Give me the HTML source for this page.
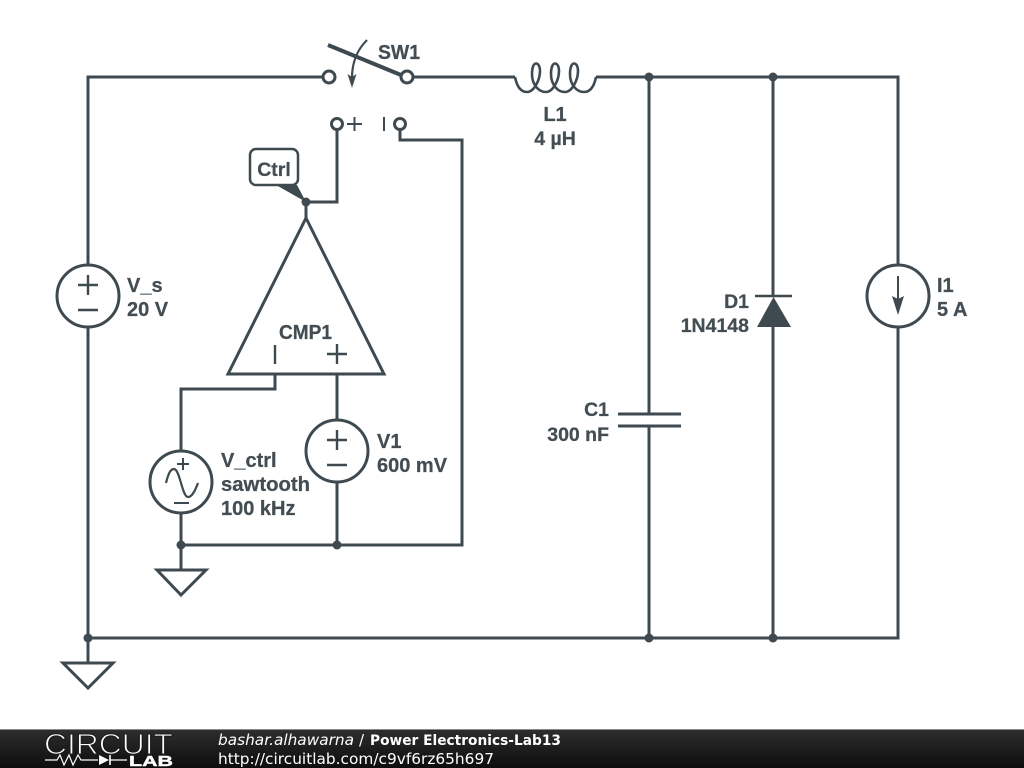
<!DOCTYPE html>
<html>
<head>
<meta charset="utf-8">
<style>
html,body{margin:0;padding:0;background:#fff;width:1024px;height:768px;overflow:hidden}
svg{display:block}
.w{fill:none;stroke:#3f4a50;stroke-width:3;stroke-linejoin:miter}
.t{font-family:"Liberation Sans",sans-serif;font-weight:bold;font-size:20px;fill:#434d52;stroke:#434d52;stroke-width:0.250}
.s{font-size:19.500px}
.f{font-family:"DejaVu Sans",sans-serif;font-size:15px;fill:#fff}
</style>
</head>
<body>
<svg width="1024" height="768" viewBox="0 0 1024 768" xmlns="http://www.w3.org/2000/svg">
<defs>
<linearGradient id="g" x1="0" y1="0" x2="0" y2="1">
<stop offset="0" stop-color="#2e2e2e"/><stop offset="1" stop-color="#0d0d0d"/>
</linearGradient>
</defs>
<rect width="1024" height="768" fill="#fff"/>

<!-- main wires -->
<path class="w" d="M323 77H88V265M88 327V638M413 77H515M596 77H898V265M898 327V638H88M88 638V663"/>
<path class="w" d="M649 77V414M649 426V638M773 77V296M773 326V638"/>
<path class="w" d="M63 663H113L88 688Z"/>

<!-- Switch -->
<circle class="w" cx="329" cy="77" r="6"/>
<circle class="w" cx="407" cy="77" r="6"/>
<path d="M328 45L401 75" fill="none" stroke="#3f4a50" stroke-width="4"/>
<path d="M367 40C360 47 352 58 352 78" fill="none" stroke="#3f4a50" stroke-width="2.200"/>
<path d="M347.500 74L352 77L356.500 74L352 88Z" fill="#3f4a50"/>
<text class="t" x="378" y="59" textLength="42" lengthAdjust="spacingAndGlyphs">SW1</text>

<!-- Inductor -->
<path d="M515 77C517 87 521 92 527 92C534 92 540 80 540 71C540 66 538 63.500 536 63.500C533.500 63.500 532 68 532 74C532 84 538 92 546 92C553 92 559 80 559 71C559 66 557 63.500 555 63.500C552.500 63.500 551 68 551 74C551 84 557 92 565 92C572 92 578 80 578 71C578 66 576 63.500 574 63.500C571.500 63.500 570 68 570 74C570 84 576 92 584 92C590 92 594 87 596 77" fill="none" stroke="#3f4a50" stroke-width="2.600"/>
<text class="t" x="555" y="121" text-anchor="middle">L1</text>
<text class="t s" x="555" y="145" text-anchor="middle">4 µH</text>

<!-- control switch -->
<circle class="w" cx="337" cy="124" r="5.500"/>
<circle class="w" cx="400" cy="124" r="5.500"/>
<path d="M347 124H362M354.500 117V131M384 117V131" fill="none" stroke="#3f4a50" stroke-width="2"/>
<path class="w" d="M337 130V202H306V218"/>
<path class="w" d="M400 130V140H462V545H181"/>

<!-- Ctrl tag -->
<path d="M276 185H297L306 202Z" fill="#3f4a50"/>
<rect x="250" y="149" width="48" height="36" rx="6" ry="6" fill="#fff" stroke="#3f4a50" stroke-width="2.500"/>
<text class="t s" x="274" y="176" text-anchor="middle">Ctrl</text>

<!-- Comparator -->
<path class="w" d="M306 218L384 374H228Z"/>
<text class="t" x="279" y="339" textLength="53" lengthAdjust="spacingAndGlyphs">CMP1</text>
<path d="M275 345V364M327 354H347M337 344V364" fill="none" stroke="#3f4a50" stroke-width="2.400"/>
<path class="w" d="M275 374V389H181V451M181 513V570M337 374V420M337 482V545"/>

<!-- V_s -->
<circle class="w" cx="88" cy="296" r="31"/>
<path d="M78 285H98M88 275V295M78 310H98" fill="none" stroke="#3f4a50" stroke-width="2.400"/>
<text class="t" x="127" y="292">V_s</text>
<text class="t" x="127" y="316">20 V</text>

<!-- V_ctrl -->
<circle class="w" cx="181" cy="482" r="31"/>
<path d="M177 464H189M183 458V470M174 503H189" fill="none" stroke="#3f4a50" stroke-width="2"/>
<path d="M166 483C168 475 170 469 174 469C180 469 182 497 188 497C192 497 195 491 198 483" fill="none" stroke="#3f4a50" stroke-width="2.200"/>
<text class="t" x="221" y="467">V_ctrl</text>
<text class="t" x="221" y="491" textLength="89" lengthAdjust="spacingAndGlyphs">sawtooth</text>
<text class="t" x="221" y="515">100 kHz</text>

<!-- V1 -->
<circle class="w" cx="337" cy="451" r="31"/>
<path d="M327 440H347M337 430V450M327 465H347" fill="none" stroke="#3f4a50" stroke-width="2.400"/>
<text class="t" x="377" y="448">V1</text>
<text class="t" x="377" y="472">600 mV</text>

<!-- ground 2 -->
<path class="w" d="M157 570H206L181 595Z"/>

<!-- C1 -->
<path d="M618 414H681M618 426H681" fill="none" stroke="#3f4a50" stroke-width="3"/>
<text class="t s" x="609" y="416" text-anchor="end">C1</text>
<text class="t s" x="609" y="441" text-anchor="end">300 nF</text>

<!-- D1 -->
<path d="M755 296H792" fill="none" stroke="#3f4a50" stroke-width="2.400"/>
<path d="M757 327H791L773.500 297Z" fill="#3f4a50"/>
<text class="t s" x="749" y="308" text-anchor="end">D1</text>
<text class="t s" x="749" y="332" text-anchor="end">1N4148</text>

<!-- I1 -->
<circle class="w" cx="898" cy="296" r="31"/>
<path d="M898 276V300" fill="none" stroke="#3f4a50" stroke-width="2"/>
<path d="M892 296L898 299L904 296L898 315Z" fill="#3f4a50"/>
<text class="t" x="937" y="292">I1</text>
<text class="t" x="937" y="316">5 A</text>

<!-- junction dots -->
<g fill="#3f4a50">
<circle cx="649" cy="77" r="4.500"/><circle cx="773" cy="77" r="4.500"/>
<circle cx="306" cy="202" r="4.500"/><circle cx="181" cy="545" r="4.500"/>
<circle cx="337" cy="545" r="4.500"/><circle cx="88" cy="638" r="4.500"/>
<circle cx="649" cy="638" r="4.500"/><circle cx="773" cy="638" r="4.500"/>
</g>

<!-- footer -->
<rect x="0" y="729" width="1024" height="39" fill="url(#g)"/>
<rect x="0" y="729" width="1024" height="1" fill="#8a8a8a"/>
<text x="44" y="754" font-family="'Liberation Sans',sans-serif" font-size="29" fill="#fff" stroke="#1c1c1c" stroke-width="1.100" textLength="129" lengthAdjust="spacingAndGlyphs">CIRCUIT</text>
<path d="M45 760H57L60 755L64 765L69 755L73 765L78 755L81 760H98M110 760H127" fill="none" stroke="#fff" stroke-width="1.200"/>
<path d="M99 755V765L109 760Z" fill="#fff"/>
<path d="M110 755V765" stroke="#fff" stroke-width="1.600"/>
<text x="129" y="766" font-family="'Liberation Sans',sans-serif" font-size="14.500" font-weight="bold" fill="#fff" stroke="#fff" stroke-width="0.400" textLength="44" lengthAdjust="spacingAndGlyphs">LAB</text>
<text class="f" x="218" y="745" font-style="italic" textLength="136" lengthAdjust="spacingAndGlyphs">bashar.alhawarna</text>
<text class="f" x="359" y="745">/</text>
<text class="f" x="370" y="745" font-weight="bold" style="font-size:14px" textLength="191" lengthAdjust="spacingAndGlyphs">Power Electronics-Lab13</text>
<text class="f" x="218" y="764" textLength="276" lengthAdjust="spacingAndGlyphs">http://circuitlab.com/c9vf6rz65h697</text>
</svg>
</body>
</html>
